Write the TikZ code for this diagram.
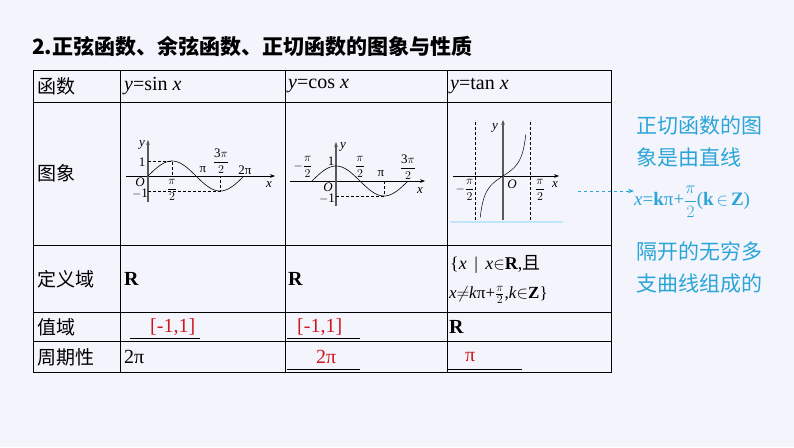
\documentclass[tikz,border=0pt]{standalone}
\usepackage{fontspec}
\setmainfont{Liberation Serif}
\newfontfamily\cjk{Noto Sans CJK SC}
\usetikzlibrary{decorations.pathmorphing,arrows.meta}
\definecolor{bgc}{HTML}{F4F4FC}
\definecolor{cy}{HTML}{2AA5D8}
\definecolor{rd}{HTML}{D0161C}
\newcommand{\fr}[2]{$\displaystyle\frac{\mathrm{#1}}{#2}$}
\begin{document}
\begin{tikzpicture}[x=1pt,y=-1pt,
  cell/.style={anchor=west,inner sep=0pt,font=\fontsize{20}{22}\selectfont},
  zh/.style={anchor=west,inner sep=0pt,font=\cjk\fontsize{19}{21}\selectfont},
  lab/.style={inner sep=0pt,font=\fontsize{13}{13}\selectfont},
  ax/.style={-{Stealth[length=5pt]},line width=0.6pt},
  dsh/.style={densely dashed,line width=0.4pt},
  rt/.style={anchor=west,inner sep=0pt,text=cy,font=\cjk\fontsize{21}{23}\selectfont}]
\fill[bgc] (0,0) rectangle (794,447);
\useasboundingbox (0,0) rectangle (794,447);
\node[anchor=west,inner sep=0pt,font=\cjk\bfseries\fontsize{21}{23}\selectfont] (title) at (32,46) {\textbf{2}.正弦函数、余弦函数、正切函数的图象与性质};
% table
\draw[line width=0.8pt] (33,70) rectangle (611,372);
\foreach \y in {102,245,312,341} \draw[line width=0.8pt] (33,\y) -- (611,\y);
\foreach \x in {120,285,447} \draw[line width=0.8pt] (\x,70) -- (\x,372);
\node[zh] (h1) at (37,86) {函数};
\node[cell] (h2) at (124,86) {\textit{y}=sin \textit{x}};
\node[cell] (h3) at (288,86) {\textit{y}=cos \textit{x}};
\node[cell] (h4) at (450,86) {\textit{y}=tan \textit{x}};
\node[zh] (r1) at (37,173) {图象};
\node[zh] (r2) at (37,279) {定义域};
\node[zh] (r3) at (37,327) {值域};
\node[zh] (r4) at (37,357) {周期性};
\node[cell] (d1) at (124,279) {\textbf{R}};
\node[cell] (d2) at (288,279) {\textbf{R}};
\node[cell,font=\fontsize{18}{20}\selectfont] (d3a) at (450,264) {\{\textit{x} \,|\, \textit{x}$\in$\textbf{R},{\cjk 且}};
\node[cell,font=\fontsize{17}{19}\selectfont] (d3b) at (449,295) {\textit{x}$\neq$\textit{k}π+$\frac{\pi}{2}$,\textit{k}$\in$\textbf{Z}\}};
\node[cell,text=rd] (v1) at (150,327) {[-1,1]};
\node[cell,text=rd] (v2) at (297,327) {[-1,1]};
\node[cell] (v3) at (449,327) {\textbf{R}};
\draw[line width=0.5pt] (130,338) -- (200,338) (287,338) -- (360,338);
\node[cell] (p1) at (124,357) {2π};
\node[cell,text=rd] (p2) at (316,357) {2π};
\node[cell,text=rd] (p3) at (465,357) {π};
\draw[line width=0.5pt] (287,369) -- (360,369) (448,369) -- (522,369);
% sin graph
\begin{scope}[shift={(148,176)}]
\draw[ax] (-22,0) -- (127,0);
\draw[line width=1.2pt,gray!70!black,-{Stealth[length=5pt]}] (0,26) -- (0,-36);
\draw[dsh] (0,-15) -- (24,-15) -- (24,0);
\draw[dsh] (0,15) -- (72,15) -- (72,0);
\draw[line width=0.6pt,domain=0:96,samples=60] plot (\x,{-15*sin(\x/48*180)});
\node[lab] at (-6,-31) {\textit{y}};
\node[lab] at (-6,-14) {1};
\node[lab] at (-8,6) {\textit{O}};
\node[lab] at (-8,18) {$-$1};
\node[lab] at (24,14) {\fr{\pi}{2}};
\node[lab] at (55,-6) {π};
\node[lab] at (73,-15) {\fr{3\pi}{2}};
\node[lab] at (97,-6) {2π};
\node[lab] at (121,9) {\textit{x}};
\end{scope}
% cos graph
\begin{scope}[shift={(336,181)}]
\draw[ax] (-46,0) -- (89,0);
\draw[line width=1.2pt,gray!70!black,-{Stealth[length=5pt]}] (0,25) -- (0,-39);
\draw[dsh] (0,15) -- (48,15) -- (48,0);
\draw[line width=0.6pt,domain=-24:72,samples=60] plot (\x,{-15*cos(\x/48*180)});
\node[lab] at (7,-34) {\textit{y}};
\node[lab] at (-5,-20) {1};
\node[lab] at (-33,-14) {$-$\fr{\pi}{2}};
\node[lab] at (24,-14) {\fr{\pi}{2}};
\node[lab] at (45,-7) {π};
\node[lab] at (72,-14) {\fr{3\pi}{2}};
\node[lab] at (-8,6) {\textit{O}};
\node[lab] at (-9,18) {$-$1};
\node[lab] at (84,10) {\textit{x}};
\end{scope}
% tan graph
\begin{scope}[shift={(503,176)}]
\draw[ax] (-50,0) -- (56,0);
\draw[line width=1.2pt,gray!70!black,-{Stealth[length=5pt]}] (0,44) -- (0,-56);
\draw[dsh] (-27.5,44) -- (-27.5,-56) (27.5,44) -- (27.5,-56);
\draw[line width=0.5pt,domain=-1.3:1.3,samples=60] plot ({\x*27.5/1.5708},{-11.5*tan(\x r)});
\node[lab] at (-8,-48) {\textit{y}};
\node[lab] at (9,8) {\textit{O}};
\node[lab] at (-38,14) {$-$\fr{\pi}{2}};
\node[lab] at (37,14) {\fr{\pi}{2}};
\node[lab] at (52,9) {\textit{x}};
\draw[cyan!50,line width=0.6pt,decorate,decoration={snake,amplitude=0.5pt,segment length=3pt}] (-53,46) -- (60,46);
\end{scope}
% right text
\node[rt] (t1) at (636,126) {正切函数的图};
\node[rt] (t2) at (636,157) {象是由直线};
\node[rt,font=\fontsize{19}{21}\selectfont] (t3) at (634,202) {\textit{x}=\textbf{k}π+\fr{\pi}{2}(\textbf{k}$\,\in\,$\textbf{Z})};
\node[rt] (t4) at (636,252) {隔开的无穷多};
\node[rt] (t5) at (636,284) {支曲线组成的};
\coordinate (as) at (578,191);
\draw[cy,dashed,line width=1pt,-{Stealth[length=6pt]}] (as) -- (t3.west|-as);
\end{tikzpicture}
\end{document}
